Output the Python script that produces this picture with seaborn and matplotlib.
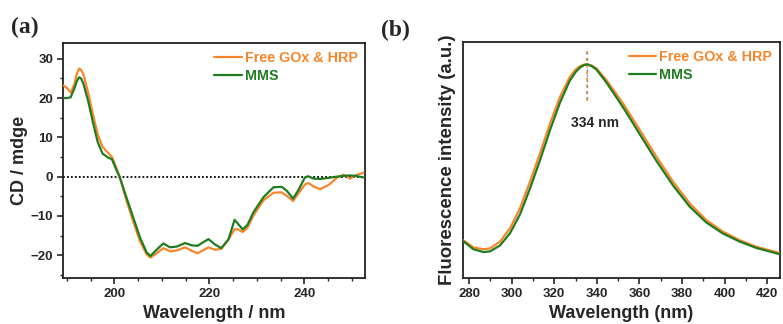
import numpy as np
import pandas as pd
import matplotlib
matplotlib.use("Agg")
import matplotlib.pyplot as plt
from matplotlib.ticker import MultipleLocator
import seaborn as sns

# ---------------- data ----------------
series_names = ["Free GOx & HRP", "MMS"]
colors = ["#F7862A", "#1F7D1F"]

cd_wl = [189.3, 190.0, 190.8, 191.6, 192.1, 192.6, 193.0, 193.5, 194.5, 195.5, 196.5, 197.5,
         198.5, 199.5, 200.5, 201.1, 202.6, 204.0, 205.4, 206.8, 207.6, 208.9,
         210.3, 211.7, 213.1, 214.9, 216.3, 217.5, 219.8, 221.2, 222.5, 224.0,
         225.3, 226.0, 227.0, 228.0, 229.3, 231.4, 233.5, 235.2, 236.3, 237.6,
         238.7, 240.1, 240.8, 241.9, 243.3, 245.1, 246.8, 248.2, 249.6, 250.7, 252.4]
cd_free = [23.2, 22.6, 21.4, 23.5, 26.2, 27.5, 27.2, 26.0, 21.3, 15.8, 10.8, 7.6,
           6.3, 5.0, 2.0, 0.0, -6.3, -11.5, -16.5, -19.8, -20.6, -19.5,
           -18.2, -19.0, -18.8, -18.0, -18.9, -19.5, -18.0, -18.6, -18.4, -16.0,
           -13.4, -13.4, -14.1, -13.0, -9.8, -6.0, -4.1, -4.0, -4.9, -6.2,
           -4.3, -2.0, -1.6, -2.5, -3.2, -2.1, -0.3, 0.5, -0.5, 0.3, 1.0]
cd_mms = [20.0, 20.0, 20.2, 22.5, 24.3, 25.3, 25.0, 23.6, 19.2, 13.8, 8.8, 5.9,
          5.0, 4.4, 1.5, 0.0, -5.5, -10.5, -15.5, -19.3, -20.2, -18.6,
          -17.0, -18.0, -17.8, -16.9, -17.5, -17.6, -15.9, -17.3, -18.2, -16.0,
          -11.0, -12.0, -13.4, -12.3, -9.0, -5.2, -2.7, -2.6, -3.6, -5.6,
          -3.5, -0.2, 0.1, -0.5, -0.6, -0.3, 0.0, 0.2, 0.3, 0.2, -0.2]

fl_wl = [277, 282, 286.7, 289.8, 294.5, 299.2, 303.9, 308.6, 313.3, 318, 322.7,
         327.3, 330, 332, 334, 335.5, 337.5, 339.8, 344.5, 352.3, 360.2, 368, 375.8,
         383.6, 391.4, 399.2, 407, 414.8, 425.5]
fl_free = [0.161, 0.130, 0.122, 0.126, 0.154, 0.211, 0.296, 0.409, 0.529, 0.656,
           0.769, 0.854, 0.885, 0.899, 0.906, 0.907, 0.902, 0.890, 0.840, 0.741,
           0.628, 0.515, 0.409, 0.317, 0.246, 0.197, 0.161, 0.133, 0.107]
fl_mms = [0.158, 0.122, 0.110, 0.113, 0.138, 0.190, 0.270, 0.380, 0.500, 0.628,
          0.745, 0.838, 0.874, 0.893, 0.904, 0.907, 0.900, 0.885, 0.830, 0.725,
          0.610, 0.497, 0.393, 0.303, 0.236, 0.189, 0.155, 0.128, 0.102]

peak_wl = 335.5
peak_label = "334 nm"

# ---------------- style ----------------
sns.set_style("ticks")
plt.rcParams['font.family'] = ['Liberation Sans', 'DejaVu Sans']
plt.rcParams['font.weight'] = 'bold'
plt.rcParams['axes.labelweight'] = 'bold'
plt.rcParams['lines.solid_joinstyle'] = 'round'

fig = plt.figure(figsize=(7.83, 3.24), dpi=100)
ax1 = fig.add_axes([0.0805, 0.142, 0.386, 0.725])
ax2 = fig.add_axes([0.591, 0.142, 0.405, 0.727])

cd_df = pd.DataFrame({
    "wl": cd_wl * 2,
    "val": cd_free + cd_mms,
    "series": [series_names[0]] * len(cd_wl) + [series_names[1]] * len(cd_wl),
})
fl_df = pd.DataFrame({
    "wl": fl_wl * 2,
    "val": fl_free + fl_mms,
    "series": [series_names[0]] * len(fl_wl) + [series_names[1]] * len(fl_wl),
})
pal = dict(zip(series_names, colors))

# panel a
ax1.axhline(0, color="black", ls=(0, (1, 1.2)), lw=1.3, zorder=1)
sns.lineplot(data=cd_df, x="wl", y="val", hue="series", palette=pal, ax=ax1,
             lw=1.6, sort=True, zorder=3)
ax1.set_xlim(189.2, 252.8)
ax1.set_ylim(-25.8, 34)
ax1.xaxis.set_major_locator(MultipleLocator(20))
ax1.xaxis.set_minor_locator(MultipleLocator(5))
ax1.yaxis.set_major_locator(MultipleLocator(10))
ax1.yaxis.set_minor_locator(MultipleLocator(5))
ax1.set_xlabel("Wavelength / nm", fontsize=13, fontweight="bold", labelpad=4)
ax1.set_ylabel("CD / mdge", fontsize=13, fontweight="bold", labelpad=2)

# panel b
ax2.plot([peak_wl, peak_wl], [0.75, 0.975], color=colors[0], ls=(0, (2, 2)), lw=1.2, zorder=2)
ax2.plot([peak_wl, peak_wl], [0.75, 0.975], color="#3A8FB0", ls=(2, (1, 3)), lw=1.0, zorder=2)
sns.lineplot(data=fl_df, x="wl", y="val", hue="series", palette=pal, ax=ax2,
             lw=1.6, sort=True, zorder=3)
ax2.text(339, 0.656, peak_label, fontsize=10, fontweight="bold", ha="center", va="center")
ax2.set_xlim(277, 426)
ax2.set_ylim(0, 1)
ax2.xaxis.set_major_locator(MultipleLocator(20))
ax2.xaxis.set_minor_locator(MultipleLocator(10))
ax2.set_yticks([])
ax2.set_xlabel("Wavelength (nm)", fontsize=13, fontweight="bold", labelpad=4)
ax2.set_ylabel("Fluorescence intensity (a.u.)", fontsize=13.4, fontweight="bold", labelpad=5)

for ax in (ax1, ax2):
    for s in ax.spines.values():
        s.set_linewidth(1.3)
        s.set_color("#222222")
    ax.tick_params(axis="both", which="major", direction="out", length=4, width=1.2,
                   labelsize=9.5, pad=3, top=False, right=False)
    ax.tick_params(axis="both", which="minor", direction="out", length=2.5, width=1.0,
                   top=False, right=False)
    for lab in ax.get_xticklabels() + ax.get_yticklabels():
        lab.set_fontweight("bold")
    leg = ax.legend(frameon=False, loc="upper right", handlelength=1.9,
                    handletextpad=0.2, labelspacing=0.25, borderaxespad=0.15,
                    prop={"weight": "bold", "size": 10.3})
    for txt, c in zip(leg.get_texts(), colors):
        txt.set_color(c)
    for h in leg.get_lines():
        h.set_linewidth(1.6)

fig.text(0.014, 0.915, "(a)", fontsize=17, fontweight="bold",
         family=["Liberation Serif", "DejaVu Serif"], va="center")
fig.text(0.487, 0.905, "(b)", fontsize=17, fontweight="bold",
         family=["Liberation Serif", "DejaVu Serif"], va="center")

fig.savefig("out.png", dpi=100)
